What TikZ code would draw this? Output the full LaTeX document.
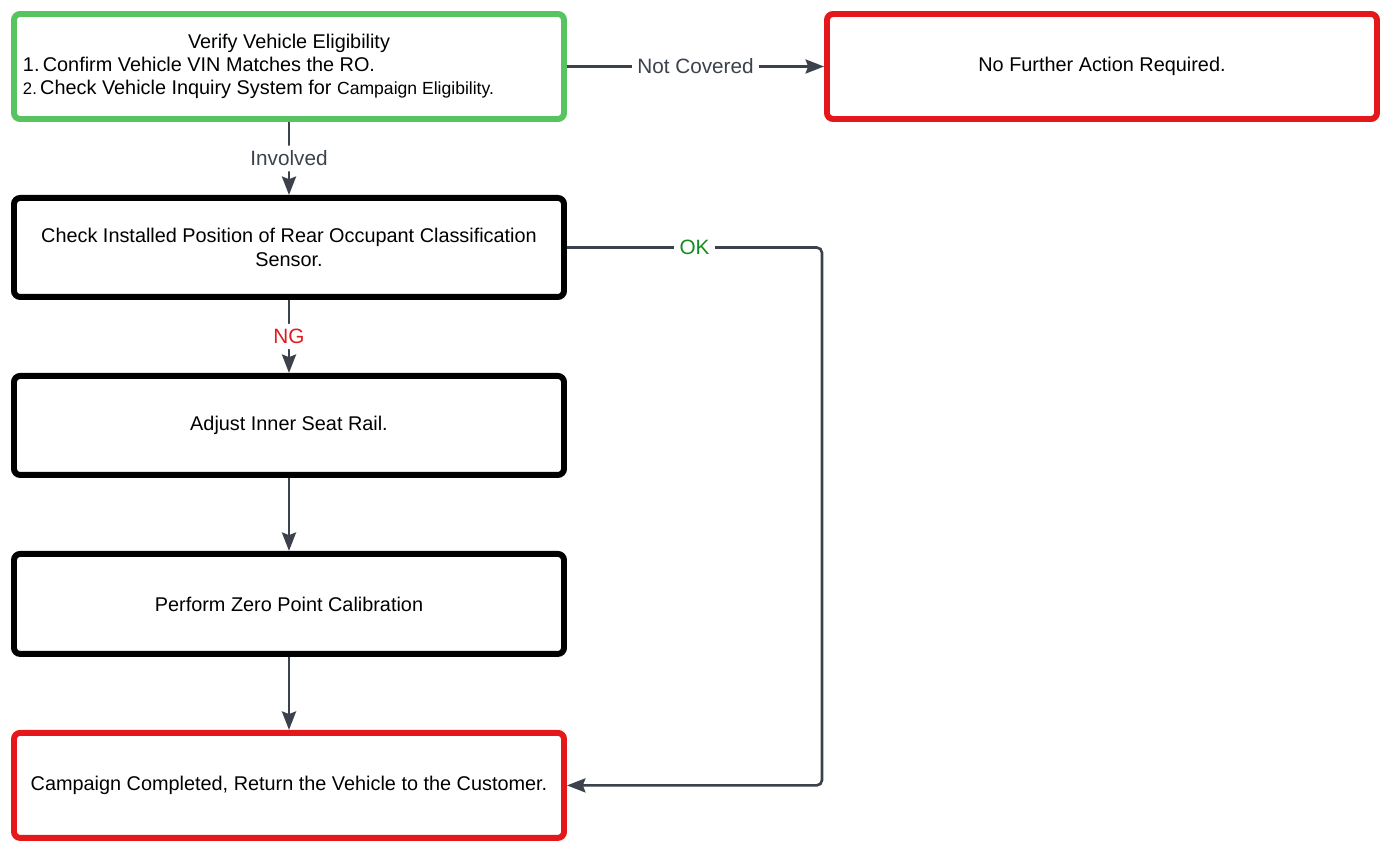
\documentclass[tikz,border=0pt]{standalone}
\usepackage{fontspec}
\setmainfont{Liberation Sans}
\usetikzlibrary{positioning,arrows.meta}

\definecolor{boxgreen}{RGB}{88,196,96}
\definecolor{boxred}{RGB}{228,24,26}
\definecolor{linegray}{RGB}{59,66,76}
\definecolor{okgreen}{RGB}{20,140,30}
\definecolor{ngred}{RGB}{222,28,30}

\begin{document}
\begin{tikzpicture}[
  stepbox/.style={draw=black, line width=3.4pt, rounded corners=3.5pt, fill=white,
    minimum width=11.0cm, minimum height=1.98cm, align=center,
    font=\fontsize{11.3pt}{13.3pt}\selectfont},
  okbox/.style={stepbox, draw=boxgreen, minimum height=2.1cm},
  endbox/.style={stepbox, draw=boxred, minimum height=2.1cm},
  flow/.style={draw=linegray, line width=1.5pt, rounded corners=3pt,
    -{Stealth[length=10.5pt,width=8pt,inset=1.5pt]}},
  lbl/.style={fill=white, inner sep=3pt, text=linegray,
    font=\fontsize{11.8pt}{13pt}\selectfont},
  node distance=1.46cm
]
\useasboundingbox (0,0) rectangle (27.66,-16.84);

\node[okbox] (verify) at (5.78,-1.33)
  {\makebox[10.64cm]{Verify Vehicle Eligibility}\\
   \makebox[10.64cm][l]{1.\,Confirm Vehicle VIN Matches the RO.}\\
   \makebox[10.64cm][l]{{\fontsize{9.5pt}{11pt}\selectfont 2.}\,Check Vehicle Inquiry System for
     {\fontsize{10pt}{11pt}\selectfont Campaign Eligibility.}}};
\node[endbox, right=5.14cm of verify] (none) {No Further Action Required.};
\node[stepbox, below=of verify] (check)
  {Check Installed Position of Rear Occupant Classification\\Sensor.};
\node[stepbox, below=of check] (adjust) {Adjust Inner Seat Rail.};
\node[stepbox, below=of adjust, minimum height=2.0cm] (calib) {Perform Zero Point Calibration};
\node[endbox, below=of calib] (done) {Campaign Completed, Return the Vehicle to the Customer.};

\draw[flow] (verify.east) -- node[lbl]{Not Covered} (none.west);
\draw[flow] (verify.south) -- node[lbl]{Involved} (check.north);
\draw[flow] (check.south) -- node[lbl, text=ngred]{NG} (adjust.north);
\draw[flow] (adjust.south) -- (calib.north);
\draw[flow] (calib.south) -- (done.north);
\draw[flow] (check.east) -- node[lbl, text=okgreen]{OK} ([xshift=-0.04cm]check.east -| none.west)
  |- (done.east);
\end{tikzpicture}
\end{document}
